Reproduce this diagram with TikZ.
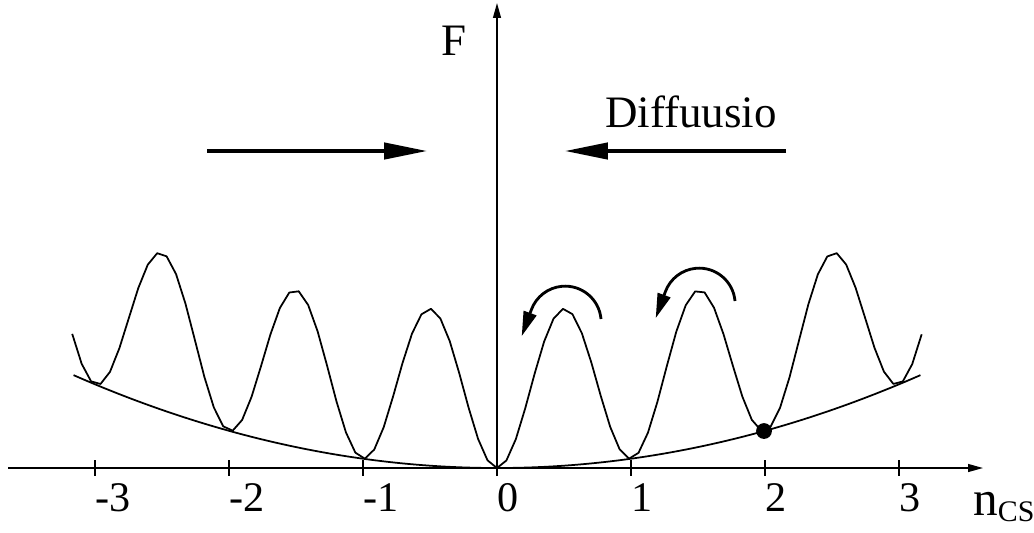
\documentclass[tikz,border=0pt]{standalone}
\usepackage{fontspec}
\setmainfont{Liberation Serif}
\usetikzlibrary{arrows.meta}

\begin{document}
\begin{tikzpicture}[
  x=0.02cm, y=-0.02cm,
  axis/.style={line width=0.8pt, -{Triangle[length=8.5pt, width=4.5pt]}},
  curve/.style={line width=1pt, line join=round},
  bigarr/.style={line width=2.8pt, -{Triangle[length=25pt, width=9pt]}},
  turn/.style={line width=1.6pt, -{Triangle[length=14pt, width=7.5pt]}},
  ticklbl/.style={font=\fontsize{24}{28}\selectfont, inner sep=0pt, anchor=west},
  lbl/.style={font=\fontsize{25.6}{30}\selectfont, inner sep=0pt}
]
\useasboundingbox (0,0) rectangle (1034,532);

% axes
\coordinate (xstart) at (8,468);
\coordinate (xend)   at (983,468);
\coordinate (ybot)   at (497,476);
\coordinate (ytop)   at (497,3);
\draw[axis] (xstart) -- (xend);
\draw[axis] (ybot) -- (ytop);

\foreach \n [count=\i] in {-3,...,3} {
  \draw[line width=0.8pt] ({497+134*\n},460) -- ({497+134*\n},476);
  \node[ticklbl] (tick\i) at ({497+134*\n},498) {\n};
}

\node[lbl, anchor=base] (flbl) at (454,55) {F};
\node[lbl, anchor=base west, font=\fontsize{28}{32}\selectfont] (nlbl) at (973,515)
  {n\raisebox{-3.5pt}{\fontsize{17}{19}\selectfont CS}};

% free energy with barriers, and the parabola under it
\draw[curve] plot[domain=-3.17:3.17, samples=91]
  ({497+134*\x},{468-9.3*\x*\x-157*sin(180*\x)*sin(180*\x)});
\draw[curve] plot[domain=-3.16:3.16, samples=60, smooth]
  ({497+134*\x},{468-9.3*\x*\x});

\node[circle, fill, inner sep=0pt, minimum size=9pt] (state) at (764,431) {};

% diffusion arrows
\coordinate (la) at (207,151);
\coordinate (lb) at (428,151);
\coordinate (ra) at (786,151);
\coordinate (rb) at (564,151);
\draw[bigarr] (la) -- (lb);
\draw[bigarr] (ra) -- (rb);
\node[lbl, anchor=base] (diff) at (691,127) {Diffuusio};

% hops over the barriers
\coordinate (h1) at (601,319);
\coordinate (h2) at (735,301);
\draw[turn] (h1) arc[start angle=-5, end angle=-160, radius=36] -- ++(-9.6,26.3);
\draw[turn] (h2) arc[start angle=-5, end angle=-160, radius=36] -- ++(-9.6,26.3);
\end{tikzpicture}
\end{document}
